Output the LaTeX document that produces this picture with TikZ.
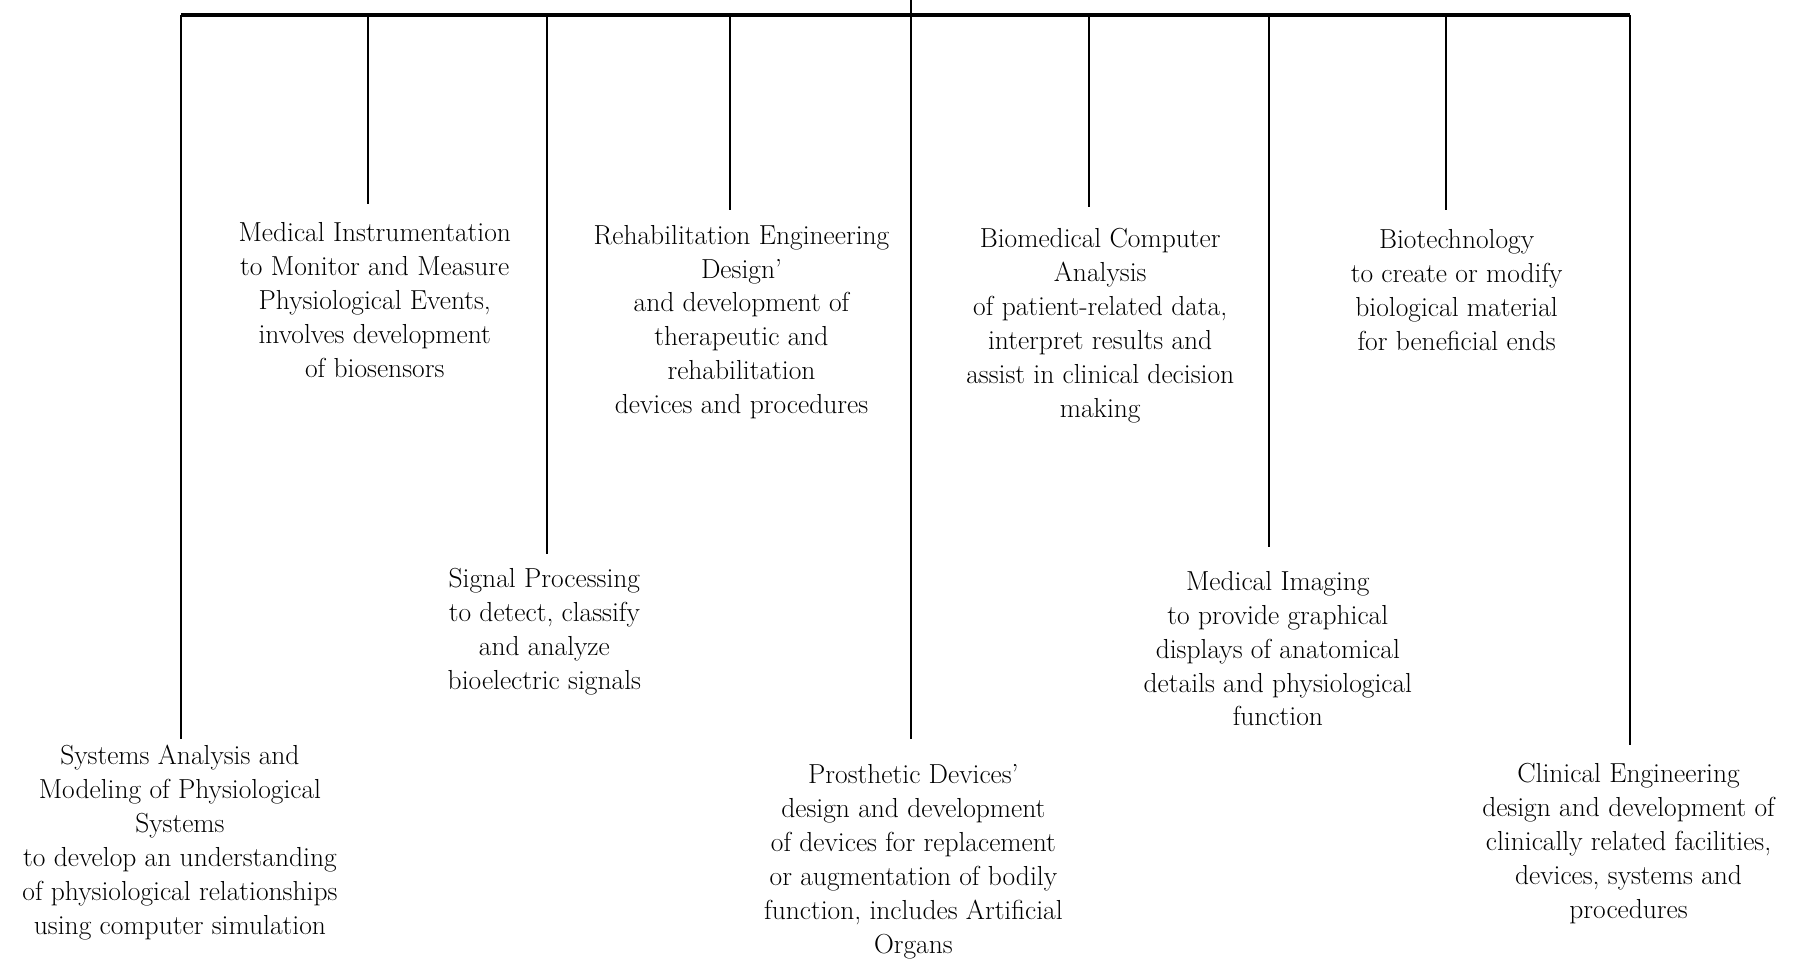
\documentclass[tikz,border=0pt]{standalone}
\begin{document}
\begin{tikzpicture}[x=1pt,y=-1pt,
  topic/.style={align=center,font=\fontsize{24}{29.6}\selectfont,inner sep=0pt},
  busline/.style={line width=3pt},
  drop/.style={line width=2pt}]
\useasboundingbox (0,0) rectangle (1568,837);
% bus coordinates
\coordinate (top) at (795,0);
\foreach \i/\x in {1/158,2/321,3/477,4/637,5/795,6/950,7/1107,8/1262,9/1422}
  \coordinate (d\i) at (\x,13);
\coordinate (e1) at (158,645);
\coordinate (e2) at (321,178);
\coordinate (e3) at (477,483);
\coordinate (e4) at (637,183);
\coordinate (e5) at (795,645);
\coordinate (e6) at (950,181);
\coordinate (e7) at (1107,477);
\coordinate (e8) at (1262,183);
\coordinate (e9) at (1422,650);
% nodes
\node[topic] (n1) at (157,735) {Systems Analysis and\\Modeling of Physiological\\Systems\\to develop an understanding\\of physiological relationships\\using computer simulation};
\node[topic] (n2) at (327,262) {Medical Instrumentation\\to Monitor and Measure\\Physiological Events,\\involves development\\of biosensors};
\node[topic] (n3) at (475,551) {Signal Processing\\to detect, classify\\and analyze\\bioelectric signals};
\node[topic] (n4) at (647,281) {Rehabilitation Engineering\\Design'\\and development of\\therapeutic and\\rehabilitation\\devices and procedures};
\node[topic] (n5) at (797,752) {Prosthetic Devices'\\design and development\\of devices for replacement\\or augmentation of bodily\\function, includes Artificial\\Organs};
\node[topic] (n6) at (960,284) {Biomedical Computer\\Analysis\\of patient-related data,\\interpret results and\\assist in clinical decision\\making};
\node[topic] (n7) at (1115,566) {Medical Imaging\\to provide graphical\\displays of anatomical\\details and physiological\\function};
\node[topic] (n8) at (1271,253) {Biotechnology\\to create or modify\\biological material\\for beneficial ends};
\node[topic] (n9) at (1421,736) {Clinical Engineering\\design and development of\\clinically related facilities,\\devices, systems and\\procedures};
% connectors
\draw[busline] (d1) -- (d9);
\draw[drop] (top) -- (d5);
\foreach \i in {1,...,9}
  \draw[drop] (d\i) -- (e\i);
\end{tikzpicture}
\end{document}
